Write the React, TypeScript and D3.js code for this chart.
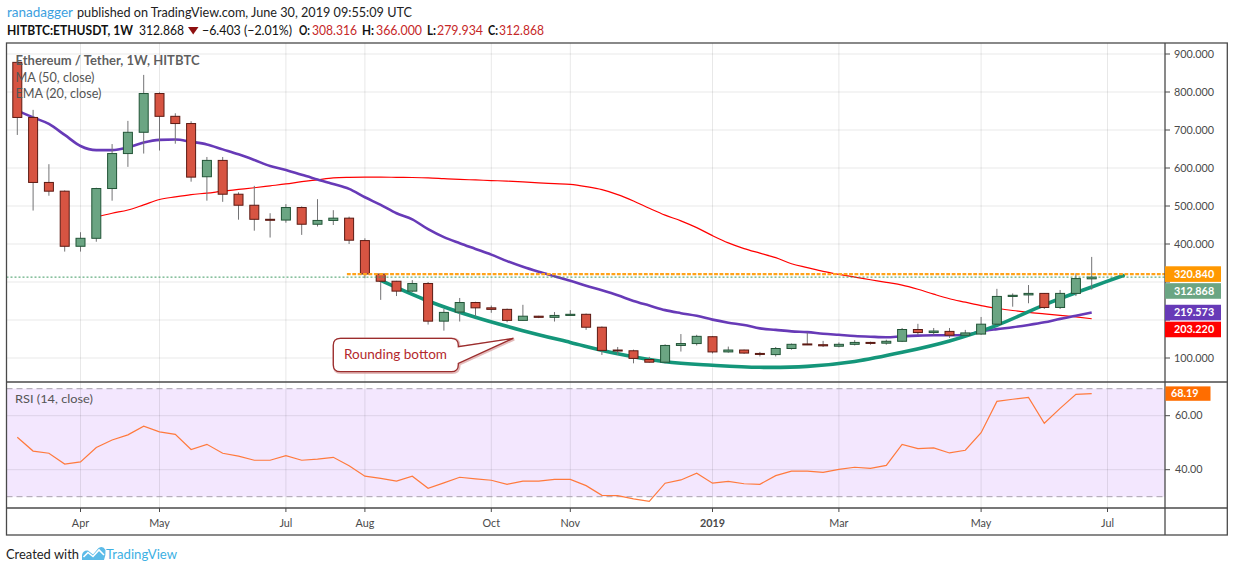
import React from 'react';
import * as d3 from 'd3';

// ---------- DATA ----------
const START = new Date(Date.UTC(2018, 2, 5));
const END = new Date(Date.UTC(2019, 5, 24));
const weekDates: Date[] = d3.utcMonday.range(START, new Date(Date.UTC(2019, 5, 25)));

const opens = [878, 733, 562, 539, 394, 415, 546, 638, 694, 796, 736, 717, 577, 620, 531, 502, 465, 463, 496, 452, 462, 468, 409, 321, 302, 276, 296, 197, 221, 246, 232, 228, 199, 210, 207, 212, 215, 181, 121, 119, 96, 89, 133, 138, 156, 116, 121, 112, 109, 125, 137, 135, 131, 136, 141, 139, 144, 175, 167, 170, 160, 163, 189, 262, 266, 270, 233, 270, 308.316];
const highs = [880, 753, 610, 541, 431, 548, 663, 724, 845, 799, 744, 723, 629, 629, 536, 553, 481, 505, 499, 518, 489, 472, 415, 322, 303, 305, 300, 229, 258, 248, 238, 230, 240, 211, 221, 226, 217, 183, 129, 122, 103, 136, 163, 161, 158, 130, 122, 116, 129, 138, 167, 145, 141, 147, 143, 148, 179, 190, 179, 179, 174, 208, 282, 270, 292, 271, 279, 323, 366.0];
const lows = [687, 488, 527, 380, 380, 406, 514, 603, 638, 646, 664, 564, 514, 511, 464, 435, 417, 456, 424, 446, 450, 400, 310, 253, 263, 274, 188, 172, 196, 209, 219, 194, 198, 205, 196, 211, 174, 108, 108, 86, 88, 86, 117, 133, 112, 114, 111, 104, 104, 122, 134, 129, 128, 133, 135, 135, 142, 161, 160, 153, 158, 161, 186, 235, 244, 229, 229, 263, 279.934];
const closes = [733, 562, 539, 394, 415, 546, 638, 694, 796, 736, 717, 576, 620, 531, 502, 465, 463, 496, 452, 462, 468, 410, 321, 302, 276, 296, 197, 220, 246, 232, 228, 199, 210, 207, 212, 215, 181, 120, 119, 99, 89, 133, 138, 157, 116, 121, 113, 110, 125, 136, 135, 132, 136, 141, 139, 144, 175, 167, 171, 160, 166, 189, 262, 265, 270, 233, 270, 309, 312.868];

const ema20 = [751, 733, 716, 687, 658, 647, 647, 654, 667, 674, 675, 669, 662, 649, 636, 621, 605, 595, 582, 570, 558, 545, 523, 503, 481, 465, 439, 418, 402, 387, 372, 355, 340, 327, 315, 303, 290, 278, 265, 250, 238, 226, 218, 211, 201, 193, 187, 178, 174, 170, 168, 164, 161, 158, 156, 154.5, 157, 159, 160, 160, 160.5, 170, 176, 181, 187, 194, 203, 211, 219.573];
const ma50: (number | null)[] = [null, null, null, null, null, 471, 481, 489.5, 503, 517, 524, 530, 534, 539, 543.5, 548, 553, 558, 564, 569, 574, 575.5, 576, 576, 575.5, 575, 574, 572, 570, 568.5, 567, 565.5, 563.5, 561, 559, 557, 551, 543, 530, 513, 494, 476, 461, 443, 422, 403, 388, 376, 364, 348, 338, 328, 320, 313, 306, 299, 292, 281, 268, 256, 247, 238, 231, 225, 220, 216, 212, 208, 203.22];
const rsi14 = [52.0, 46.9, 46.1, 42.1, 42.9, 48.2, 51.0, 52.9, 56.1, 54.0, 53.1, 47.5, 49.4, 46.1, 45.0, 43.5, 43.5, 45.2, 43.5, 43.9, 44.6, 41.5, 37.6, 36.8, 35.8, 37.6, 33.1, 35.1, 37.2, 36.6, 36.1, 34.6, 35.8, 35.8, 36.4, 36.4, 34.1, 30.5, 30.4, 29.2, 28.3, 35.0, 36.2, 38.7, 35.0, 35.7, 34.8, 34.6, 37.8, 39.5, 39.5, 39.0, 40.1, 40.9, 40.5, 41.6, 49.4, 47.8, 48.1, 46.2, 47.2, 53.7, 65.3, 66.1, 66.8, 57.2, 62.7, 67.9, 68.19];

const roundingDates = ['2018-08-13', '2018-09-03', '2018-09-24', '2018-10-15', '2018-11-05', '2018-11-26', '2018-12-17', '2019-01-07', '2019-01-28', '2019-02-18', '2019-03-11', '2019-04-01', '2019-04-22', '2019-05-13', '2019-06-03', '2019-06-24', '2019-07-08'];
const roundingValues = [304, 250, 207, 172, 141, 111, 90, 81, 75.5, 78, 91, 115, 145, 186, 240, 287, 317];

const priceTicks = [100, 200, 300, 400, 500, 600, 700, 800, 900];
const rsiTicks = [40, 60];
const timeTickDates = ['2018-04-02', '2018-05-07', '2018-07-02', '2018-08-06', '2018-10-01', '2018-11-05', '2019-01-07', '2019-03-04', '2019-05-06', '2019-07-01'];
const timeTickLabels = ['Apr', 'May', 'Jul', 'Aug', 'Oct', 'Nov', '2019', 'Mar', 'May', 'Jul'];

const resistanceLevel = 320.84;
const resistanceStart = '2018-08-06';
const lastPrice = 312.868;
const lastRsi = 68.19;

// ---------- LAYOUT ----------
const W = 1234, H = 572;
const L = 6.5, R = 1227.3, AX = 1165, TOP = 43, PB = 382, RB = 508, BOT = 535;
const FONT = "Lato, 'Open Sans', sans-serif";

const UP_FILL = '#6ba583', UP_LINE = '#225437', DN_FILL = '#d75442', DN_LINE = '#5b1a13';

export default function App() {
  const x = d3.scaleUtc().domain([START, END]).range([17.3, 1091.7]);
  const y = d3.scaleLinear().domain([100, 900]).range([358, 54]);
  const yr = d3.scaleLinear().domain([40, 60]).range([469.7, 415.7]);
  const pd = (s: string) => new Date(s + 'T00:00:00Z');

  const emaLine = d3.line<number>().x((_, i) => x(weekDates[i])).y(v => y(v)).curve(d3.curveMonotoneX)(ema20) || '';
  const maLine = d3.line<number | null>().defined(v => v !== null).x((_, i) => x(weekDates[i])).y(v => y(v as number)).curve(d3.curveMonotoneX)(ma50) || '';
  const rsiLine = d3.line<number>().x((_, i) => x(weekDates[i])).y(v => yr(v))(rsi14) || '';
  const roundLine = d3.line<number>().x((_, i) => x(pd(roundingDates[i]))).y(v => y(v)).curve(d3.curveCatmullRom)(roundingValues) || '';

  // price labels with collision avoidance
  const labelsRaw = [
    { v: resistanceLevel, c: '#ff9800', t: '320.840' },
    { v: lastPrice, c: UP_FILL, t: '312.868' },
    { v: ema20[ema20.length - 1], c: '#673ab7', t: '219.573' },
    { v: ma50[ma50.length - 1] as number, c: '#ff0000', t: '203.220' },
  ];
  const labels: { cy: number; c: string; t: string }[] = [];
  labelsRaw.forEach((d, i) => {
    let cy = y(d.v);
    if (i > 0 && cy < labels[i - 1].cy + 16.9) cy = labels[i - 1].cy + 16.9;
    labels.push({ cy, c: d.c, t: d.t });
  });
  // tick labels hidden behind the price labels are not drawn (as in TradingView)
  const visibleTick = (t: number) => labels.every(l => Math.abs(y(t) - l.cy) > 14);

  // callout
  const bx0 = 333.3, bx1 = 458.3, by0 = 338.3, by1 = 371.7, r = 7;
  const callout = `M${bx0 + r},${by0} H${bx1 - r} Q${bx1},${by0} ${bx1},${by0 + r} V346.7 L513.3,338.3 L${bx1},363.3 V${by1 - r} Q${bx1},${by1} ${bx1 - r},${by1} H${bx0 + r} Q${bx0},${by1} ${bx0},${by1 - r} V${by0 + r} Q${bx0},${by0} ${bx0 + r},${by0} Z`;

  const red = '#c62828';

  return (
    <div style={{ position: 'absolute', left: 0, top: 0, width: W, height: H, background: '#fff' }}>
      <svg width={W} height={H} style={{ display: 'block', fontFamily: FONT }}>
        <defs>
          <clipPath id="pricePane"><rect x={L} y={TOP} width={AX - L} height={PB - TOP} /></clipPath>
          <clipPath id="rsiPane"><rect x={L} y={PB} width={AX - L} height={RB - PB} /></clipPath>
        </defs>
        <rect x={0} y={0} width={W} height={H} fill="#fff" />

        {/* header */}
        <text x={7} y={17} fontSize={13.5} fill="#3ca0e0" textLength={66} lengthAdjust="spacingAndGlyphs">ranadagger</text>
        <text x={77} y={17} fontSize={13.5} fill="#222" textLength={335} lengthAdjust="spacingAndGlyphs">published on TradingView.com, June 30, 2019 09:55:09 UTC</text>
        <g fontSize={13} fill="#111">
          <text x={7} y={35} fontWeight="bold" textLength={126} lengthAdjust="spacingAndGlyphs">HITBTC:ETHUSDT, 1W</text>
          <text x={139} y={35} textLength={45} lengthAdjust="spacingAndGlyphs">312.868</text>
          <path d="M188,27 L198.5,27 L193.2,34.5 Z" fill="#8e1010" />
          <text x={202} y={35} textLength={90} lengthAdjust="spacingAndGlyphs">−6.403 (−2.01%)</text>
          <text x={299} y={35} fontWeight="bold" textLength={11} lengthAdjust="spacingAndGlyphs">O:</text>
          <text x={312} y={35} fill={red} textLength={45} lengthAdjust="spacingAndGlyphs">308.316</text>
          <text x={362} y={35} fontWeight="bold" textLength={12} lengthAdjust="spacingAndGlyphs">H:</text>
          <text x={376} y={35} fill={red} textLength={46} lengthAdjust="spacingAndGlyphs">366.000</text>
          <text x={427} y={35} fontWeight="bold" textLength={9} lengthAdjust="spacingAndGlyphs">L:</text>
          <text x={437} y={35} fill={red} textLength={46} lengthAdjust="spacingAndGlyphs">279.934</text>
          <text x={488} y={35} fontWeight="bold" textLength={10} lengthAdjust="spacingAndGlyphs">C:</text>
          <text x={499} y={35} fill={red} textLength={45} lengthAdjust="spacingAndGlyphs">312.868</text>
        </g>

        {/* RSI band */}
        <rect x={L} y={yr(70)} width={AX - L} height={yr(30) - yr(70)} fill="#f3e7fe" />

        {/* grids */}
        <g stroke="#000" strokeOpacity={0.09} strokeWidth={1}>
          {priceTicks.map(t => <line key={'pg' + t} x1={L} x2={AX} y1={y(t)} y2={y(t)} clipPath="url(#pricePane)" />)}
          {rsiTicks.map(t => <line key={'rg' + t} x1={L} x2={AX} y1={yr(t)} y2={yr(t)} />)}
          {timeTickDates.map(d => (
            <g key={'vg' + d}>
              <line x1={x(pd(d))} x2={x(pd(d))} y1={TOP} y2={PB} />
              <line x1={x(pd(d))} x2={x(pd(d))} y1={PB} y2={RB} />
            </g>
          ))}
        </g>
        <g stroke="#a8a0ae" strokeDasharray="6 4" strokeWidth={1}>
          <line x1={L} x2={AX} y1={yr(70)} y2={yr(70)} />
          <line x1={L} x2={AX} y1={yr(30)} y2={yr(30)} />
        </g>

        {/* price pane */}
        <g clipPath="url(#pricePane)">
          <path d={maLine} fill="none" stroke="#ff0000" strokeWidth={1.2} />
          <path d={emaLine} fill="none" stroke="#673ab7" strokeWidth={2.6} />
          <path d={roundLine} fill="none" stroke="#14967a" strokeWidth={3.6} strokeLinecap="round" />
          {weekDates.map((d, i) => {
            const o = opens[i], c = closes[i];
            const up = c >= o;
            const cx = x(d);
            const top = y(Math.max(o, c));
            const h = Math.max(1, y(Math.min(o, c)) - top);
            return (
              <g key={'c' + i}>
                <line x1={cx} x2={cx} y1={y(highs[i])} y2={y(lows[i])} stroke="#737375" strokeWidth={1} />
                <rect x={cx - 4.5} y={top} width={9} height={h} fill={up ? UP_FILL : DN_FILL} stroke={up ? UP_LINE : DN_LINE} strokeWidth={1} />
              </g>
            );
          })}
          <line x1={L} x2={AX} y1={y(lastPrice)} y2={y(lastPrice)} stroke="#3f9a62" strokeWidth={1} strokeDasharray="2 2" />
          <line x1={x(pd(resistanceStart)) - 18} x2={AX} y1={y(resistanceLevel)} y2={y(resistanceLevel)} stroke="#ffa31a" strokeWidth={2.4} strokeDasharray="3.8 1.6" />

          {/* callout */}
          <path d={callout} fill="none" stroke="#d8a0a0" strokeWidth={3} strokeOpacity={0.7} transform="translate(0.8,0.8)" />
          <path d={callout} fill="#fff" stroke="#9b2d2d" strokeWidth={1.3} />
          <text x={344} y={358.5} fontSize={13.5} fill="#b3282d" textLength={103} lengthAdjust="spacingAndGlyphs">Rounding bottom</text>

          <text x={15.5} y={65} fontSize={12.8} fontWeight="bold" fill="#555" fillOpacity={0.95} textLength={184} lengthAdjust="spacingAndGlyphs">Ethereum / Tether, 1W, HITBTC</text>
          <text x={15.5} y={81.7} fontSize={12.8} fill="#555" textLength={79} lengthAdjust="spacingAndGlyphs">MA (50, close)</text>
          <text x={15.5} y={98.3} fontSize={12.8} fill="#555" textLength={86} lengthAdjust="spacingAndGlyphs">EMA (20, close)</text>
        </g>

        {/* RSI pane */}
        <g clipPath="url(#rsiPane)">
          <path d={rsiLine} fill="none" stroke="#ff7a3d" strokeWidth={1.2} />
          <text x={15} y={402.5} fontSize={12} fill="#555" textLength={78} lengthAdjust="spacingAndGlyphs">RSI (14, close)</text>
        </g>

        {/* frame */}
        <g stroke="#4a4a4a" strokeWidth={1.3} fill="none">
          <rect x={L} y={TOP} width={R - L} height={BOT - TOP} />
          <line x1={AX} x2={AX} y1={TOP} y2={BOT} />
          <line x1={L} x2={R} y1={PB} y2={PB} />
          <line x1={L} x2={R} y1={RB} y2={RB} />
        </g>

        {/* price axis */}
        <g fontSize={10.8} fill="#4a4a4a">
          {priceTicks.map(t => (
            <g key={'pt' + t}>
              <line x1={AX} x2={AX + 5} y1={y(t)} y2={y(t)} stroke="#4a4a4a" />
              {visibleTick(t) && <text x={1174} y={y(t) + 3.7}>{d3.format('.3f')(t)}</text>}
            </g>
          ))}
          {rsiTicks.map(t => (
            <g key={'rt' + t}>
              <line x1={AX} x2={AX + 5} y1={yr(t)} y2={yr(t)} stroke="#4a4a4a" />
              <text x={1175} y={yr(t) + 3.7}>{d3.format('.2f')(t)}</text>
            </g>
          ))}
        </g>
        {labels.map(l => (
          <g key={'lb' + l.t}>
            <rect x={AX} y={l.cy - 7.8} width={56} height={15.6} fill={l.c} />
            <text x={1174} y={l.cy + 3.8} fontSize={10.8} fontWeight="bold" fill="#fff">{l.t}</text>
          </g>
        ))}
        <rect x={AX + 0.5} y={yr(lastRsi) - 7.2} width={45} height={14.4} fill="#ff6d00" />
        <text x={1171} y={yr(lastRsi) + 3.8} fontSize={10.8} fontWeight="bold" fill="#fff">{d3.format('.2f')(lastRsi)}</text>

        {/* time axis */}
        <g fontSize={10.8} fill="#4a4a4a" textAnchor="middle">
          {timeTickDates.map((d, i) => (
            <g key={'tt' + d}>
              <line x1={x(pd(d))} x2={x(pd(d))} y1={RB} y2={RB + 4} stroke="#4a4a4a" />
              <text x={x(pd(d))} y={526.5} fontWeight={timeTickLabels[i] === '2019' ? 'bold' : 'normal'}>{timeTickLabels[i]}</text>
            </g>
          ))}
        </g>

        {/* footer */}
        <text x={6} y={559} fontSize={12.8} fill="#222" textLength={73} lengthAdjust="spacingAndGlyphs">Created with</text>
        <g>
          <path d="M82,560 L82,555 Q83,550 88,550.5 L93,554.5 L98.5,548 Q103,545 105.5,550 Q106,555 104,560 Z" fill="#5cbbe8" />
          <path d="M83.5,557 L88,552.5 L93,556.5 L99,550 L104,555" fill="none" stroke="#fff" strokeWidth={1.6} />
        </g>
        <text x={106} y={559} fontSize={12.8} fill="#3db0e3" textLength={71} lengthAdjust="spacingAndGlyphs">TradingView</text>
      </svg>
    </div>
  );
}
